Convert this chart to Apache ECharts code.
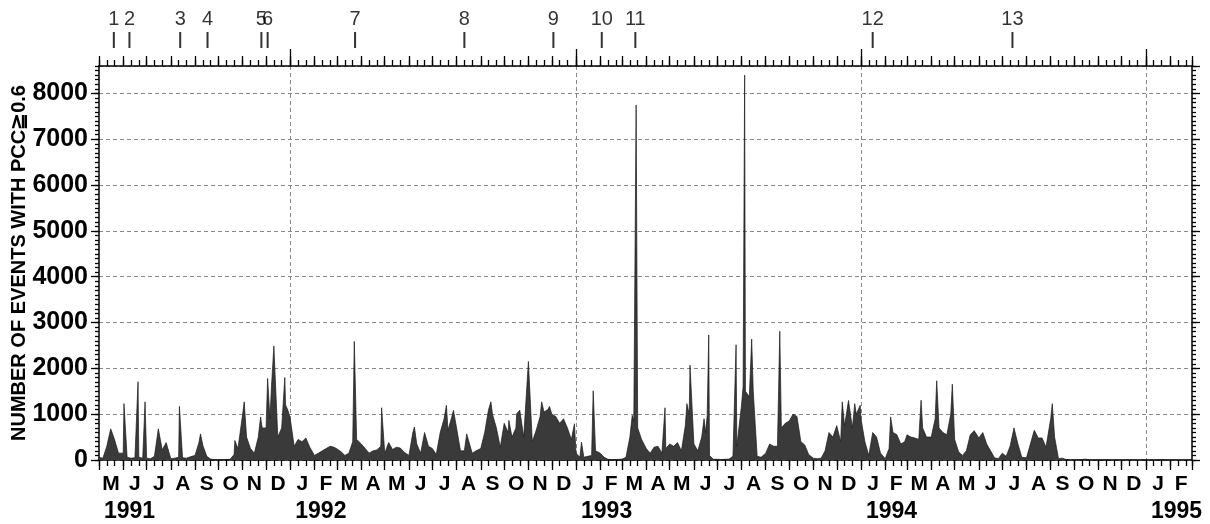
<!DOCTYPE html>
<html>
<head>
<meta charset="utf-8">
<script src="https://cdn.jsdelivr.net/npm/echarts@6/dist/echarts.min.js"></script>
<style>
  html, body { margin: 0; padding: 0; background: #fff; }
  #chart { width: 1210px; height: 524px; }
</style>
</head>
<body>
<div id="chart"></div>
<script>
const FONT = "'Liberation Sans', Arial, sans-serif";
const START = Date.UTC(1991, 4, 1);
const END = Date.UTC(1995, 2, 1);

const monthLetters = ['J', 'F', 'M', 'A', 'M', 'J', 'J', 'A', 'S', 'O', 'N', 'D'];
// each row is one month, sampled on these days
const sampleDays = [1, 6, 11, 16, 21, 26];

// May..Dec 1991
const counts1991 = [
  [60, 40, 300, 680, 440, 150],
  [150, 60, 40, 50, 60, 40],
  [40, 30, 80, 680, 220, 380],
  [30, 40, 60, 50, 40, 70],
  [100, 380, 320, 80, 20, 10],
  [5, 5, 10, 15, 120, 250],
  [1000, 500, 250, 150, 500, 700],
  [700, 900, 1000, 500, 700, 1200]
];
const counts1992 = [
  [900, 300, 450, 400, 480, 280],
  [100, 150, 200, 250, 300, 280],
  [240, 180, 100, 150, 400, 450],
  [350, 250, 150, 200, 220, 300],
  [150, 380, 230, 280, 260, 170],
  [100, 600, 350, 150, 600, 300],
  [250, 120, 600, 900, 650, 950],
  [700, 200, 200, 450, 150, 200],
  [250, 600, 1100, 1000, 700, 280],
  [800, 600, 500, 700, 1085, 500],
  [500, 400, 650, 950, 1050, 1100],
  [1000, 950, 800, 900, 700, 450]
];
const counts1993 = [
  [150, 60, 60, 80, 100, 200],
  [150, 60, 15, 10, 10, 15],
  [20, 60, 500, 850, 700, 450],
  [250, 150, 280, 300, 150, 250],
  [350, 300, 380, 200, 750, 1000],
  [350, 200, 500, 600, 100, 15],
  [15, 10, 15, 20, 80, 300],
  [1200, 1500, 1380, 1500, 80, 60],
  [150, 350, 300, 300, 700, 800],
  [850, 1000, 950, 400, 330, 120],
  [40, 30, 40, 200, 600, 500],
  [750, 400, 750, 1300, 700, 1000]
];
const counts1994 = [
  [900, 400, 100, 600, 500, 150],
  [30, 250, 600, 550, 350, 400],
  [550, 500, 480, 450, 700, 500],
  [500, 900, 700, 600, 550, 1000],
  [450, 180, 100, 200, 550, 640],
  [480, 600, 350, 200, 50, 30],
  [150, 80, 300, 700, 350, 60],
  [50, 350, 650, 480, 480, 280],
  [900, 500, 30, 40, 10, 0],
  [0, 5, 10, 20, 5, 0],
  [0, 0, 5, 0, 0, 0],
  [0, 0, 0, 0, 0, 0]
];
// Jan..Feb 1995
const counts1995 = [
  [0, 0, 0, 5, 10, 0],
  [0, 0, 0, 0, 0, 0]
];

// narrow single-day peaks
const spikes = [
  ['1991-06-02', 1230], ['1991-06-20', 1710], ['1991-06-29', 1270],
  ['1991-08-12', 1170], ['1991-09-08', 570], ['1991-10-22', 425],
  ['1991-11-03', 1270], ['1991-11-24', 940], ['1991-12-03', 1780],
  ['1991-12-08', 1630], ['1991-12-11', 2490], ['1991-12-25', 1800],
  ['1991-12-29', 1085],
  ['1992-03-23', 2590], ['1992-04-27', 1140], ['1992-06-08', 720],
  ['1992-07-19', 1195], ['1992-07-28', 1085], ['1992-08-14', 570],
  ['1992-09-14', 1270], ['1992-10-07', 865], ['1992-10-17', 1010],
  ['1992-11-01', 2150], ['1992-11-18', 1270], ['1992-11-28', 1170],
  ['1992-12-30', 790],
  ['1993-01-08', 390], ['1993-01-23', 1510], ['1993-03-14', 975],
  ['1993-03-19', 7750], ['1993-04-25', 1140], ['1993-05-23', 1230],
  ['1993-05-27', 2070], ['1993-06-14', 900], ['1993-06-18', 975],
  ['1993-06-20', 2730], ['1993-07-25', 2515], ['1993-08-03', 1600],
  ['1993-08-05', 8400], ['1993-08-14', 2640], ['1993-09-19', 2810],
  ['1993-12-08', 1270], ['1993-12-24', 1230], ['1993-12-31', 1195],
  ['1994-02-08', 940], ['1994-03-19', 1305], ['1994-04-08', 1730],
  ['1994-04-28', 1655], ['1994-09-03', 1230]
];

// numbered markers along the top
const eventDates = [
  '1991-05-20', '1991-06-09', '1991-08-13', '1991-09-17', '1991-11-25',
  '1991-12-03', '1992-03-24', '1992-08-11', '1992-12-03', '1993-02-03',
  '1993-03-18', '1994-01-16', '1994-07-14'
];
const eventLabels = ['1', '2', '3', '4', '5', '6', '7', '8', '9', '10', '11', '12', '13'];

function utc(s) {
  const p = s.split('-').map(Number);
  return Date.UTC(p[0], p[1] - 1, p[2]);
}

// merge monthly samples and spikes into one sorted series
const byTime = new Map();
function addYear(year, firstMonth, rows) {
  rows.forEach((row, i) => {
    row.forEach((v, k) => byTime.set(Date.UTC(year, firstMonth + i, sampleDays[k]), v));
  });
}
addYear(1991, 4, counts1991);
addYear(1992, 0, counts1992);
addYear(1993, 0, counts1993);
addYear(1994, 0, counts1994);
addYear(1995, 0, counts1995);
byTime.set(END, 0);
spikes.forEach(([d, v]) => byTime.set(utc(d), v));
const seriesData = [...byTime.entries()].sort((a, b) => a[0] - b[0]);

// calendar tick positions
const monthStarts = [];
const tenDayTicks = [];
const monthMids = [];
const yearStarts = [];
for (let t = START; t <= END; ) {
  const d = new Date(t);
  const y = d.getUTCFullYear(), m = d.getUTCMonth();
  const next = Date.UTC(y, m + 1, 1);
  monthStarts.push(t);
  if (t < END) tenDayTicks.push(t, Date.UTC(y, m, 11), Date.UTC(y, m, 21));
  if (next <= END) monthMids.push((t + next) / 2);
  if (m === 0) yearStarts.push(t);
  t = next;
}
tenDayTicks.push(END);

const black = { color: '#000', width: 1.3 };
const hidden = { show: false };
const solidLine = { show: true, onZero: false, lineStyle: { color: '#000', width: 1.5 } };
const noLine = { show: false, onZero: false };

// x axes are plain value axes holding UTC timestamps
function xAx(extra) {
  return Object.assign({
    type: 'value', gridIndex: 0, min: START, max: END,
    axisLine: noLine, axisTick: hidden, axisLabel: hidden, splitLine: hidden
  }, extra);
}
function tickX(position, values, length, withLine) {
  return xAx({
    position: position,
    axisLine: withLine ? solidLine : noLine,
    axisTick: { show: true, customValues: values.slice(), length: length, lineStyle: black }
  });
}
function yAx(position, interval, length, extra) {
  return Object.assign({
    type: 'value', gridIndex: 0, position: position, min: 0, max: 8600, interval: interval,
    axisLine: solidLine,
    axisTick: { show: true, length: length, lineStyle: black },
    axisLabel: hidden, splitLine: hidden
  }, extra);
}

const chart = echarts.init(document.getElementById('chart'));
chart.setOption({
  animation: false,
  backgroundColor: '#fff',
  grid: [
    { left: 99, right: 18, top: 66, bottom: 64, outerBoundsMode: 'none' },
    { left: 99, right: 18, top: 32, height: 16, outerBoundsMode: 'none' }
  ],
  xAxis: [
    xAx({
      position: 'bottom',
      axisLine: solidLine,
      axisTick: { show: true, customValues: tenDayTicks.slice(), length: 6, lineStyle: black },
      axisLabel: {
        show: true, customValues: monthMids, margin: 14,
        formatter: v => monthLetters[new Date(v).getUTCMonth()],
        fontSize: 21, fontFamily: FONT, fontWeight: 'bold', color: '#000'
      }
    }),
    tickX('bottom', monthStarts, 10),
    xAx({
      position: 'bottom',
      axisTick: { show: false, customValues: yearStarts.slice() },
      splitLine: { show: true, lineStyle: { color: '#888', type: [4, 3], width: 1 } },
      axisLabel: {
        show: true, customValues: [START].concat(yearStarts), margin: 40,
        align: 'left', padding: [0, 0, 0, 5],
        formatter: v => String(new Date(v).getUTCFullYear()),
        fontSize: 23, fontFamily: FONT, fontWeight: 'bold', color: '#000'
      }
    }),
    tickX('top', tenDayTicks, 6, true),
    tickX('top', monthStarts, 10),
    tickX('top', yearStarts, 17),
    { type: 'value', gridIndex: 1, min: START, max: END, show: false }
  ],
  yAxis: [
    yAx('left', 1000, 8, {
      axisLabel: {
        show: true, showMaxLabel: false, margin: 11,
        formatter: v => String(v),
        fontSize: 25, fontFamily: FONT, fontWeight: 'bold', color: '#000'
      },
      splitLine: { show: true, lineStyle: { color: '#888', type: [4, 3], width: 1 } },
      name: 'NUMBER OF EVENTS WITH PCC≧0.6',
      nameLocation: 'middle',
      nameGap: 70,
      nameMoveOverlap: false,
      nameTextStyle: { fontSize: 20, fontFamily: FONT, fontWeight: 'bold', color: '#000' }
    }),
    yAx('left', 100, 4, { axisLine: noLine }),
    yAx('right', 1000, 8),
    yAx('right', 100, 4, { axisLine: noLine }),
    { type: 'value', gridIndex: 1, min: 0, max: 1, show: false }
  ],
  series: [
    {
      type: 'line',
      xAxisIndex: 0,
      yAxisIndex: 0,
      data: seriesData,
      symbol: 'none',
      sampling: null,
      lineStyle: { color: '#1a1a1a', width: 0.7 },
      areaStyle: { color: '#3a3a3a', opacity: 1 },
      z: 3
    },
    {
      type: 'scatter',
      xAxisIndex: 6,
      yAxisIndex: 4,
      data: eventDates.map(d => [utc(d), 0.5]),
      symbol: 'rect',
      symbolSize: [2, 16],
      itemStyle: { color: '#000' },
      silent: true,
      label: {
        show: true, position: 'top', distance: 3,
        formatter: p => eventLabels[p.dataIndex],
        fontSize: 20, fontFamily: FONT, color: '#000'
      }
    }
  ]
});
</script>
</body>
</html>
